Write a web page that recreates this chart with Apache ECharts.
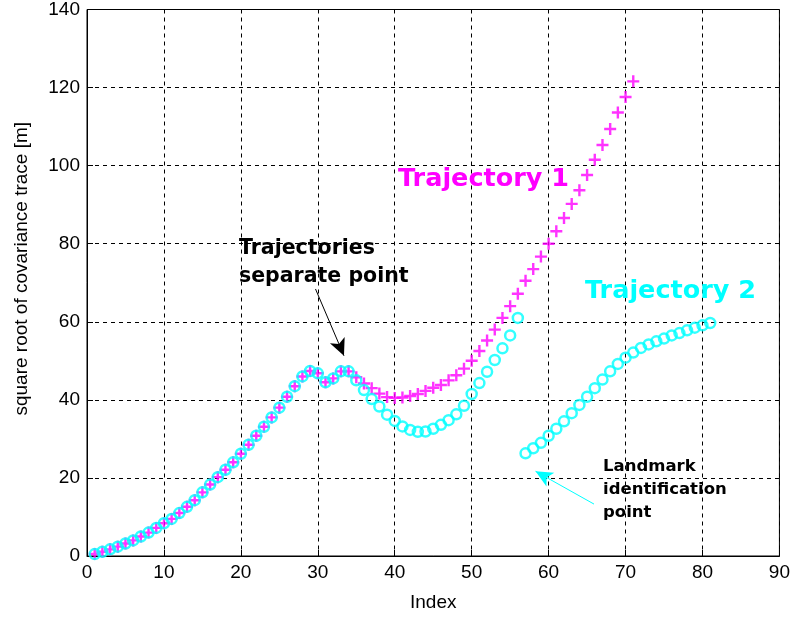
<!DOCTYPE html>
<html>
<head>
<meta charset="utf-8">
<script src="https://cdn.jsdelivr.net/npm/echarts@6/dist/echarts.min.js"></script>
<style>
  html, body { margin: 0; padding: 0; background: #fff; }
  #chart { width: 793px; height: 617px; }
</style>
</head>
<body>
<div id="chart"></div>
<script>
// values, index starts at 1
var traj1 = [
  0.5, 1.1, 1.7, 2.4, 3.2, 4.0, 5.0, 6.0, 7.2, 8.4,
  9.5, 11.0, 12.6, 14.3, 16.3, 18.3, 20.2, 22.1, 24.0, 26.2,
  28.5, 30.8, 33.1, 35.5, 38.0, 40.8, 43.5, 46.0, 47.4, 46.8,
  44.5, 45.5, 47.3, 47.3, 45.8, 44.2, 43.0, 41.6, 40.7, 40.5,
  40.6, 41.0, 41.5, 42.3, 43.1, 43.8, 45.0, 46.3, 48.0, 50.0,
  52.5, 55.2, 58.0, 61.0, 64.0, 67.2, 70.5, 73.5, 76.7, 80.0,
  83.2, 86.6, 90.2, 93.7, 97.6, 101.5, 105.3, 109.4, 113.6, 117.6,
  121.6
];
var traj2a = [
  0.5, 1.1, 1.7, 2.4, 3.2, 4.0, 5.0, 6.0, 7.2, 8.4,
  9.5, 11.0, 12.6, 14.3, 16.3, 18.3, 20.2, 22.1, 24.0, 26.2,
  28.5, 30.8, 33.1, 35.5, 38.0, 40.8, 43.5, 46.0, 47.4, 46.8,
  44.5, 45.5, 47.3, 47.3, 45.0, 42.5, 40.2, 38.3, 36.2, 34.6,
  33.2, 32.3, 31.8, 31.9, 32.6, 33.6, 34.8, 36.3, 38.5, 41.5,
  44.3, 47.2, 50.2, 53.2, 56.5, 61.0
];
var traj2bStart = 57;
var traj2b = [
  26.3, 27.6, 29.0, 30.8, 32.6, 34.5, 36.6, 38.7, 40.8, 43.0,
  45.2, 47.3, 49.2, 50.8, 52.1, 53.3, 54.2, 55.0, 55.7, 56.5,
  57.1, 57.8, 58.5, 59.1, 59.7
];
var xTicks = [0, 90, 10];
var yTicks = [0, 140, 20];

function pairs(vals, start) {
  return vals.map(function (v, i) { return [start + i, v]; });
}

var myChart = echarts.init(document.getElementById('chart'));
var plus = 'path://M4,0L6,0L6,4L10,4L10,6L6,6L6,10L4,10L4,6L0,6L0,4L4,4Z';
var font = 'Liberation Sans, Arial, sans-serif';

option = {
  animation: false,
  grid: {
    left: 87, right: 11, top: 9, bottom: 59,
    show: true, borderColor: '#000', borderWidth: 1, backgroundColor: '#fff'
  },
  xAxis: {
    type: 'value',
    min: xTicks[0], max: xTicks[1], interval: xTicks[2],
    name: 'Index', nameLocation: 'middle', nameGap: 37,
    nameTextStyle: { color: '#000', fontSize: 19, fontFamily: font },
    axisLine: { show: true, lineStyle: { color: '#000' } },
    axisTick: { show: true, inside: true, length: 6, lineStyle: { color: '#000' } },
    axisLabel: { color: '#000', fontSize: 19, fontFamily: font, margin: 7 },
    splitLine: { show: true, lineStyle: { color: '#000', type: [4, 4], width: 1 } }
  },
  yAxis: {
    type: 'value',
    min: yTicks[0], max: yTicks[1], interval: yTicks[2],
    name: 'square root of covariance trace [m]', nameLocation: 'middle', nameGap: 56,
    nameTextStyle: { color: '#000', fontSize: 19, fontFamily: font, padding: [0, 0, 0, 28] },
    axisLine: { show: true, lineStyle: { color: '#000' } },
    axisTick: { show: true, inside: true, length: 6, lineStyle: { color: '#000' } },
    axisLabel: { color: '#000', fontSize: 19, fontFamily: font, margin: 7 },
    splitLine: { show: true, lineStyle: { color: '#000', type: [4, 4], width: 1 } }
  },
  series: [
    {
      name: 'Trajectory 1',
      type: 'scatter',
      symbol: plus,
      symbolSize: 12,
      itemStyle: { color: '#ff00ff' },
      data: pairs(traj1, 1),
      markLine: {
        silent: true,
        symbol: ['none', 'arrow'],
        symbolSize: [12, 17],
        label: { show: false },
        lineStyle: { color: '#000', type: 'solid', width: 1 },
        data: [[{ coord: [29.7, 68.4] }, { coord: [33.4, 51.3] }]]
      }
    },
    {
      name: 'Trajectory 2',
      type: 'scatter',
      symbol: 'circle',
      symbolSize: 10,
      itemStyle: { color: 'rgba(0,0,0,0)', borderColor: '#00ffff', borderWidth: 2.5 },
      data: pairs(traj2a, 1).concat(pairs(traj2b, traj2bStart)),
      markLine: {
        silent: true,
        symbol: ['none', 'arrow'],
        symbolSize: [12, 17],
        label: { show: false },
        lineStyle: { color: '#00ffff', type: 'solid', width: 1 },
        data: [[{ coord: [65.9, 13.3] }, { coord: [58.3, 21.7] }]]
      }
    }
  ],
  graphic: [
    { type: 'text', left: 398, top: 166, z: 100,
      style: { text: 'Trajectory 1', fill: '#ff00ff', font: 'bold 25.5px DejaVu Sans' } },
    { type: 'text', left: 585, top: 278, z: 100,
      style: { text: 'Trajectory 2', fill: '#00ffff', font: 'bold 25.5px DejaVu Sans' } },
    { type: 'text', left: 239, top: 234, z: 100,
      style: { text: 'Trajectories\nseparate point', fill: '#000', font: 'bold 20.5px DejaVu Sans', lineHeight: 28.5 } },
    { type: 'text', left: 603, top: 455, z: 100,
      style: { text: 'Landmark\nidentification\npoint', fill: '#000', font: 'bold 16.5px DejaVu Sans', lineHeight: 23 } }
  ]
};
myChart.setOption(option);
</script>
</body>
</html>
